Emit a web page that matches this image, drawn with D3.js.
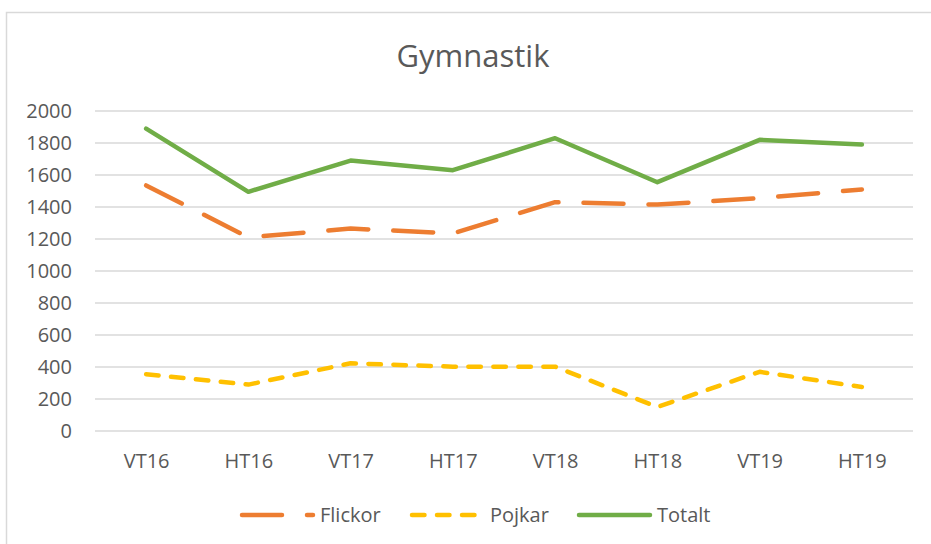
<!DOCTYPE html>
<html>
<head>
<meta charset="utf-8">
<script src="https://cdn.jsdelivr.net/npm/d3@7"></script>
<style>
  body { margin: 0; background: #fff; }
  svg { display: block; font-family: "Open Sans", sans-serif; }
</style>
</head>
<body>
<svg width="931" height="544"></svg>
<script>
// terms
var terms = ["VT16", "HT16", "VT17", "HT17", "VT18", "HT18", "VT19", "HT19"];
var flickor = [1535, 1210, 1265, 1235, 1430, 1415, 1455, 1510];
var pojkar = [355, 290, 423, 402, 402, 150, 370, 275];
var totalt = [1890, 1495, 1690, 1630, 1830, 1555, 1820, 1790];
var yTicks = [0, 200, 400, 600, 800, 1000, 1200, 1400, 1600, 1800, 2000];

var series = [
    { name: "Flickor", values: flickor, color: "#ED7D31", dash: "40 25" },
    { name: "Pojkar", values: pojkar, color: "#FFC000", dash: "12.5 12.5" },
    { name: "Totalt", values: totalt, color: "#70AD47", dash: null }
];

var svg = d3.select("svg");
var w = 931, h = 544;
// plot area (note: "top" is taken by window.top)
var plotLeft = 95, plotRight = 913, plotTop = 111, plotBottom = 431;

// chart frame (only top and left edges fall inside the picture)
svg.append("rect")
    .attr("x", 6.5).attr("y", 12.5)
    .attr("width", w).attr("height", h)
    .attr("fill", "none")
    .attr("stroke", "#D9D9D9")
    .attr("stroke-width", 1.5);

svg.append("text")
    .attr("x", 473).attr("y", 67)
    .attr("text-anchor", "middle")
    .attr("font-size", 31)
    .attr("fill", "#595959")
    .text("Gymnastik");

var x = d3.scalePoint().domain(terms).range([plotLeft, plotRight]).padding(0.5);
var y = d3.scaleLinear().domain([0, 2000]).range([plotBottom, plotTop]);

// gridlines
svg.append("g")
    .selectAll("line")
    .data(yTicks)
    .join("line")
    .attr("x1", plotLeft).attr("x2", plotRight)
    .attr("y1", d => y(d)).attr("y2", d => y(d))
    .attr("stroke", "#D9D9D9")
    .attr("stroke-width", 1.3);

// y axis labels
var yAxis = svg.append("g")
    .attr("transform", "translate(" + (plotLeft - 23) + ",0)")
    .call(d3.axisLeft(y).tickValues(yTicks).tickFormat(d3.format("d")).tickSize(0).tickPadding(0));
yAxis.select(".domain").remove();
yAxis.selectAll("text")
    .attr("font-family", "Open Sans, sans-serif")
    .attr("font-size", 20)
    .attr("fill", "#595959");

// x axis labels
var xAxis = svg.append("g")
    .attr("transform", "translate(0," + (plotBottom + 23) + ")")
    .call(d3.axisBottom(x).tickSize(0).tickPadding(0));
xAxis.select(".domain").remove();
xAxis.selectAll("text")
    .attr("font-family", "Open Sans, sans-serif")
    .attr("font-size", 20)
    .attr("fill", "#595959");

var line = d3.line()
    .x((d, i) => x(terms[i]))
    .y(d => y(d));

svg.append("g")
    .selectAll("path")
    .data(series)
    .join("path")
    .attr("d", d => line(d.values))
    .attr("fill", "none")
    .attr("stroke", d => d.color)
    .attr("stroke-width", 4.5)
    .attr("stroke-linecap", "round")
    .attr("stroke-linejoin", "round")
    .attr("stroke-dasharray", d => d.dash);

// legend
var legendX = [242, 412, 579];
var legend = svg.append("g")
    .selectAll("g")
    .data(series)
    .join("g")
    .attr("transform", (d, i) => "translate(" + legendX[i] + ",515)");

legend.append("line")
    .attr("x1", 0).attr("x2", (d, i) => i === 1 ? 63 : 71)
    .attr("y1", 0).attr("y2", 0)
    .attr("stroke", d => d.color)
    .attr("stroke-width", 4.5)
    .attr("stroke-linecap", "round")
    .attr("stroke-dasharray", d => d.dash);

legend.append("text")
    .attr("x", 78)
    .attr("y", 0)
    .attr("dy", "0.35em")
    .attr("font-size", 20)
    .attr("fill", "#595959")
    .text(d => d.name);
</script>
</body>
</html>
